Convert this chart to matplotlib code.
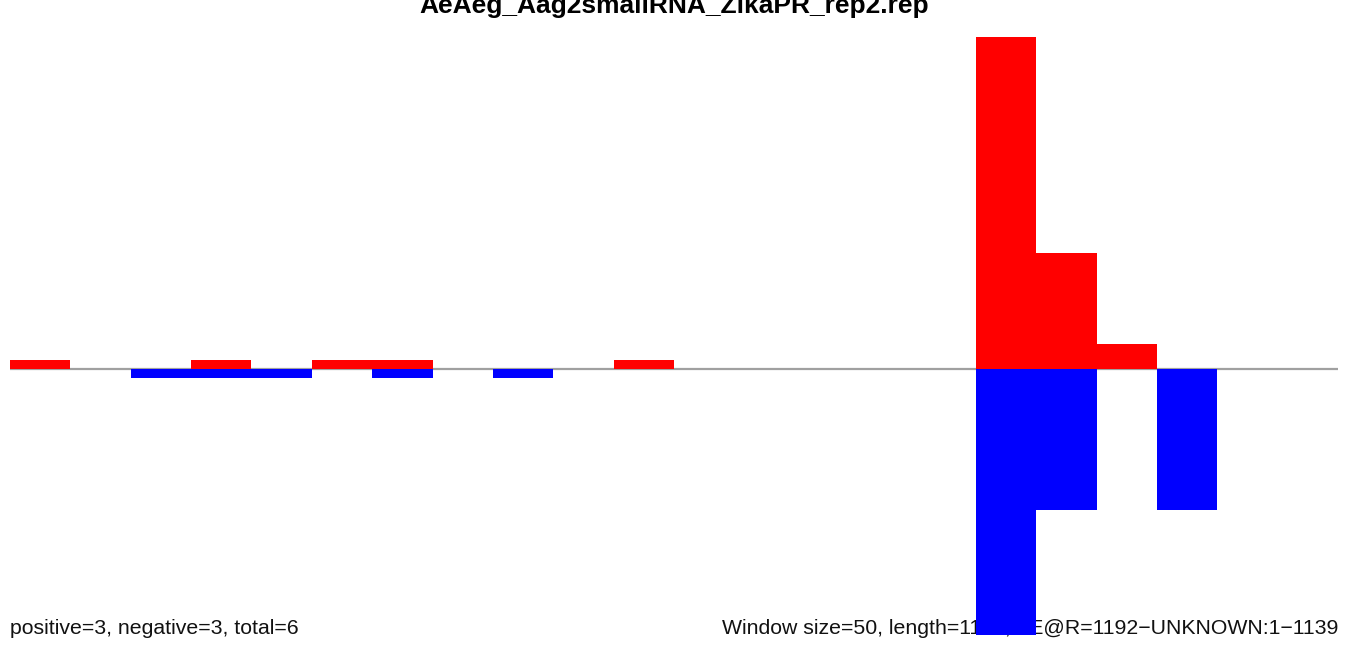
import numpy as np
import matplotlib
matplotlib.use("Agg")
import matplotlib.pyplot as plt

plt.rcParams['font.family'] = ['Liberation Sans', 'DejaVu Sans']

title = "AeAeg_Aag2smallRNA_ZikaPR_rep2.rep"
window = 50
n_bins = 22
# per-window counts (sense / antisense)
pos_counts = [1, 0, 0, 1, 0, 1, 1, 0, 0, 0, 1, 0, 0, 0, 0, 0, 36.9, 12.9, 2.8, 0, 0, 0]
neg_counts = [0, 0, 1, 1, 1, 0, 1, 0, 1, 0, 0, 0, 0, 0, 0, 0, 29.6, 15.7, 0, 15.7, 0, 0]
left_label = "positive=3, negative=3, total=6"
right_label = "Window size=50, length=1139, TE@R=1192\u2212UNKNOWN:1\u22121139"

W, H = 1350, 646
fig = plt.figure(figsize=(W / 100, H / 100), dpi=100)

ymax = max(max(pos_counts), max(neg_counts))
# axes placed in pixels: x 10..1338, zero line at y=369, top at y=37
top_px, zero_px = 37, 369
half = zero_px - top_px
ax = fig.add_axes([10 / W, (H - zero_px - half) / H, 1328 / W, 2 * half / H])
ax.patch.set_alpha(0)

starts = np.arange(n_bins) * window
ax.axhline(0, color="#A0A0A0", lw=1.6, zorder=1)
ax.bar(starts, pos_counts, width=window, align="edge", color="#FF0000", lw=0, zorder=2)
ax.bar(starts, [-v for v in neg_counts], width=window, align="edge", color="#0000FF", lw=0, zorder=2)

ax.set_xlim(0, n_bins * window)
ax.set_ylim(-ymax, ymax)
ax.axis("off")

# footer texts sit behind the bars, as in the original
ax.text(10 / W, 1 - 628 / H, left_label, transform=fig.transFigure, fontsize=15.3,
        ha="left", va="center", color="#111111", zorder=0)
ax.text(1338 / W, 1 - 628 / H, right_label, transform=fig.transFigure, fontsize=15.3,
        ha="right", va="center", color="#111111", zorder=0)
fig.text(674 / W, 1 - 13 / H, title, fontsize=19, fontweight="bold", ha="center", va="baseline")

fig.savefig("out.png", dpi=100)
